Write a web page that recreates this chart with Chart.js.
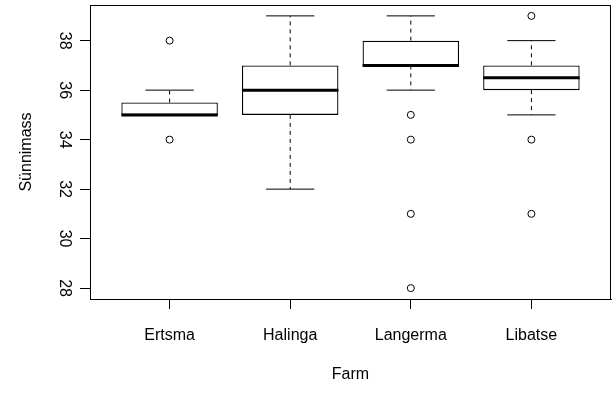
<!DOCTYPE html>
<html>
<head>
<meta charset="utf-8">
<script src="https://cdn.jsdelivr.net/npm/chart.js@4/dist/chart.umd.min.js"></script>
<style>
html,body{margin:0;padding:0;background:#fff;}
#wrap{width:616px;height:393px;position:relative;}
</style>
</head>
<body>
<div id="wrap"><canvas id="c"></canvas></div>
<script>
const categories = ['Ertsma', 'Halinga', 'Langerma', 'Libatse'];
const q1 = [35, 35, 37, 36];
const median = [35, 36, 37, 36.5];
const q3 = [35.5, 37, 38, 37];
const whiskerLow = [35, 32, 36, 35];
const whiskerHigh = [36, 39, 39, 38];
const outliers = [[34, 38], [], [35, 34, 31, 28], [39, 34, 31]];
const yTicks = [28, 30, 32, 34, 36, 38];
const xTitle = 'Farm';
const yTitle = 'Sünnimass';

const FONT = '"Liberation Sans", Arial, sans-serif';
const BOX_HALF = 0.4, CAP_HALF = 0.2;

const boxData = categories.map((c, i) => ({x: i + 1, y: [q1[i], q3[i]]}));
const whiskerData = [];
const capData = [];
const medianData = [];
const outlierData = [];
categories.forEach((c, i) => {
  const x = i + 1;
  whiskerData.push({x, y: q3[i]}, {x, y: whiskerHigh[i]}, {x, y: null});
  whiskerData.push({x, y: q1[i]}, {x, y: whiskerLow[i]}, {x, y: null});
  capData.push({x: x - CAP_HALF, y: whiskerHigh[i]}, {x: x + CAP_HALF, y: whiskerHigh[i]}, {x, y: null});
  capData.push({x: x - CAP_HALF, y: whiskerLow[i]}, {x: x + CAP_HALF, y: whiskerLow[i]}, {x, y: null});
  medianData.push({x: x - BOX_HALF, y: median[i]}, {x: x + BOX_HALF, y: median[i]}, {x, y: null});
  outliers[i].forEach(v => outlierData.push({x, y: v}));
});

const frame = {
  id: 'frame',
  afterDraw(chart) {
    const {ctx, chartArea: a} = chart;
    ctx.save();
    ctx.strokeStyle = '#000';
    ctx.lineWidth = 1;
    ctx.strokeRect(Math.round(a.left) + 0.5, Math.round(a.top) + 0.5, Math.round(a.right - a.left) - 1, Math.round(a.bottom - a.top));
    ctx.restore();
  }
};

const lineBase = {type: 'line', pointRadius: 0, borderColor: '#000', borderWidth: 1, spanGaps: false, fill: false, tension: 0, borderCapStyle: 'butt'};

new Chart(document.getElementById('c'), {
  type: 'bar',
  data: {
    datasets: [
      {type: 'scatter', data: outlierData, pointStyle: 'circle', pointRadius: 3.5, borderWidth: 1, borderColor: '#000', backgroundColor: 'rgba(0,0,0,0)', order: 0},
      Object.assign({}, lineBase, {data: medianData, borderWidth: 3, order: 1}),
      Object.assign({}, lineBase, {data: capData, order: 2}),
      Object.assign({}, lineBase, {data: whiskerData, borderDash: [4, 4], order: 3}),
      {type: 'bar', data: boxData, backgroundColor: '#fff', borderColor: '#000', borderWidth: 1.3, borderSkipped: false, barPercentage: 0.8, categoryPercentage: 1, order: 4}
    ]
  },
  options: {
    responsive: true,
    maintainAspectRatio: false,
    animation: false,
    events: [],
    layout: {padding: {top: 4, right: 4, left: 0, bottom: 0}},
    plugins: {legend: {display: false}, tooltip: {enabled: false}},
    scales: {
      x: {
        type: 'linear',
        min: 0.34,
        max: 4.66,
        offset: false,
        grid: {display: true, drawOnChartArea: false, drawTicks: true, tickLength: 10, color: '#000', offset: false},
        border: {display: true, color: '#000', width: 1},
        ticks: {font: {family: FONT, size: 16}, color: '#000', padding: 17, autoSkip: false, maxRotation: 0, callback: v => categories[v - 1]},
        title: {display: true, text: xTitle, font: {family: FONT, size: 16}, color: '#000', padding: {top: 0, bottom: 9}},
        afterBuildTicks: s => { s.ticks = categories.map((c, i) => ({value: i + 1})); },
        afterFit: s => { s.height = 94; s.paddingLeft = 0; s.paddingRight = 0; }
      },
      y: {
        type: 'linear',
        min: 27.56,
        max: 39.44,
        grid: {display: true, drawOnChartArea: false, drawTicks: true, tickLength: 10, color: '#000'},
        border: {display: true, color: '#000', width: 1},
        ticks: {font: {family: FONT, size: 16}, color: '#000', padding: 7, minRotation: -90, crossAlign: 'center', autoSkip: false},
        title: {display: true, text: yTitle, font: {family: FONT, size: 16}, color: '#000', padding: {top: 17, bottom: 0}},
        afterBuildTicks: s => { s.ticks = yTicks.map(v => ({value: v})); },
        afterFit: s => { s.width = 90; s.paddingTop = 0; s.paddingBottom = 0; }
      }
    }
  },
  plugins: [frame]
});
</script>
</body>
</html>
